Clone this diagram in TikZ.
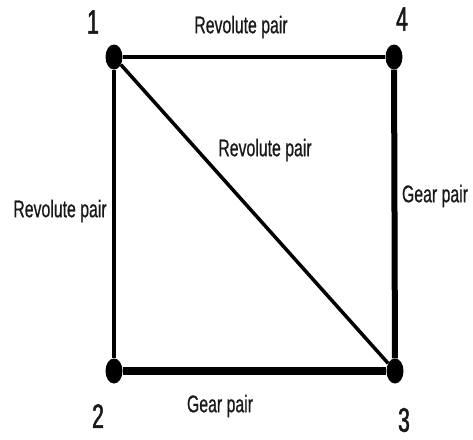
\documentclass[tikz,border=0pt]{standalone}
\usepackage{fontspec}
\usetikzlibrary{shapes.geometric}
\newfontfamily\lblfont{Liberation Sans}[FakeStretch=0.66,FakeBold=0.6]
\newfontfamily\numfont{Liberation Sans}[FakeStretch=0.62,FakeBold=1.5]
\begin{document}
\begin{tikzpicture}[x=1pt,y=-1pt,
  joint/.style={ellipse,fill=black,draw=none,minimum width=17pt,minimum height=25pt,inner sep=0pt},
  lbl/.style={font=\lblfont\fontsize{24}{24}\selectfont,text=black!90,inner sep=0pt},
  num/.style={font=\numfont\fontsize{34}{34}\selectfont,text=black!90,inner sep=0pt},
  thinlink/.style={line width=3.5pt},
  midlink/.style={line width=6pt},
  thicklink/.style={line width=8pt}]
\useasboundingbox (0,0) rectangle (473,439);
\fill[white] (0,0) rectangle (473,439);
\node[joint] (n1) at (114,57) {};
\node[joint] (n4) at (394,57) {};
\node[joint] (n2) at (114,371) {};
\node[joint] (n3) at (395,371) {};
\draw[thinlink] (n1) -- (n4);
\draw[thinlink] (n1) -- (n2);
\draw[thinlink] (n1) -- (n3);
\draw[midlink] (n4) -- (n3);
\draw[thicklink] (n2) -- (n3);
\node[num] (l1) at (93,22) {1};
\node[num] (l4) at (402,19) {4};
\node[num] (l2) at (98,416) {2};
\node[num] (l3) at (404,420) {3};
\node[lbl] (e14) at (241,27) {Revolute pair};
\node[lbl] (e13) at (265,150) {Revolute pair};
\node[lbl] (e12) at (60,211) {Revolute pair};
\node[lbl] (e43) at (435,196) {Gear pair};
\node[lbl] (e23) at (220,406) {Gear pair};
\end{tikzpicture}
\end{document}
